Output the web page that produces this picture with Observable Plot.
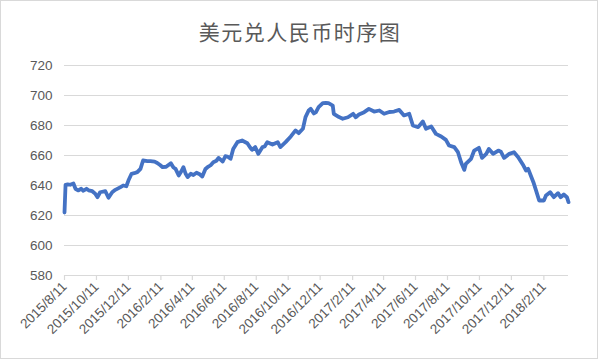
<!DOCTYPE html>
<html>
<head>
<meta charset="utf-8">
<script src="https://cdn.jsdelivr.net/npm/d3@7"></script>
<script src="https://cdn.jsdelivr.net/npm/@observablehq/plot@0.6"></script>
<style>
  html, body { margin: 0; padding: 0; background: #fff; }
  #wrap { position: relative; width: 600px; height: 360px; overflow: hidden; }
  #frame { position: absolute; left: 0; top: 0; width: 598px; height: 359px; box-sizing: border-box; border: 1px solid #d9d9d9; pointer-events: none; }
  #title { position: absolute; left: 0; top: 16px; width: 600px; text-align: center; font-family: "Noto Sans CJK SC", sans-serif; font-size: 21px; letter-spacing: 1.5px; color: #595959; }
  #chart { position: absolute; left: 0; top: 0; }
</style>
</head>
<body>
<div id="wrap">
  <div id="chart"></div>
  <div id="title">美元兑人民币时序图</div>
  <div id="frame"></div>
</div>
<script>
const chartTitle = "美元兑人民币时序图";

const dates = [
  "2015-08-11","2015-08-13","2015-08-17","2015-08-22","2015-08-28","2015-09-01","2015-09-06","2015-09-12",
  "2015-09-16","2015-09-22","2015-09-26","2015-10-03","2015-10-09","2015-10-13","2015-10-18","2015-10-28",
  "2015-11-03","2015-11-10","2015-11-16","2015-11-26","2015-12-01","2015-12-07","2015-12-11","2015-12-17",
  "2015-12-22","2015-12-28","2016-01-03","2016-01-08","2016-01-16","2016-01-22","2016-01-30","2016-02-04",
  "2016-02-10","2016-02-14","2016-02-21","2016-03-01","2016-03-06","2016-03-10","2016-03-16","2016-03-21",
  "2016-03-25","2016-03-29","2016-04-02","2016-04-08","2016-04-13","2016-04-19","2016-04-25","2016-04-30",
  "2016-05-06","2016-05-10","2016-05-16","2016-05-21","2016-05-27","2016-05-31","2016-06-08","2016-06-13",
  "2016-06-17","2016-06-23","2016-06-28","2016-07-06","2016-07-15","2016-07-25","2016-07-31","2016-08-03",
  "2016-08-09","2016-08-15","2016-08-23","2016-08-27","2016-09-01","2016-09-11","2016-09-21","2016-09-26",
  "2016-10-06","2016-10-16","2016-10-25","2016-10-31","2016-11-08","2016-11-13","2016-11-19","2016-11-23",
  "2016-11-29","2016-12-03","2016-12-08","2016-12-16","2016-12-22","2016-12-27","2017-01-04","2017-01-06",
  "2017-01-16","2017-01-23","2017-02-02","2017-02-12","2017-02-17","2017-02-23","2017-03-05","2017-03-14",
  "2017-03-24","2017-04-03","2017-04-12","2017-04-22","2017-05-01","2017-05-11","2017-05-20","2017-05-30",
  "2017-06-06","2017-06-16","2017-06-25","2017-07-01","2017-07-11","2017-07-20","2017-07-30","2017-08-08",
  "2017-08-14","2017-08-24","2017-08-31","2017-09-06","2017-09-12","2017-09-15","2017-09-25","2017-10-01",
  "2017-10-10","2017-10-16","2017-10-24","2017-10-29","2017-11-06","2017-11-16","2017-11-21","2017-11-27",
  "2017-12-07","2017-12-16","2017-12-24","2018-01-03","2018-01-08","2018-01-12","2018-01-22","2018-01-27",
  "2018-02-02","2018-02-11","2018-02-15","2018-02-23","2018-03-02","2018-03-10","2018-03-15","2018-03-21",
  "2018-03-27","2018-03-30"
];

const rates = [
  622.0,640.5,640.8,640.5,641.3,637.8,636.7,637.8,
  636.5,637.8,636.8,636.2,634.4,632.2,635.5,636.2,
  631.8,635.5,637.1,638.9,640.0,639.5,643.3,647.8,
  648.2,648.9,651.1,656.7,656.3,656.2,655.9,655.0,
  653.5,652.2,652.5,654.9,652.0,651.1,646.7,649.5,
  652.2,648.0,645.6,647.8,647.0,648.5,647.5,646.0,
  651.0,652.2,653.5,655.5,656.5,658.4,656.0,659.5,
  659.3,657.8,664.4,668.9,670.0,668.2,665.0,663.8,
  665.6,661.1,665.6,666.0,668.9,667.3,668.9,665.6,
  668.9,672.7,676.7,674.9,677.8,685.6,690.0,691.1,
  688.0,688.9,692.2,694.9,695.0,694.9,693.3,687.8,
  685.6,684.5,685.5,687.8,685.5,687.3,688.9,691.1,
  689.3,690.0,687.8,689.0,689.3,690.4,686.7,687.8,
  680.0,678.9,682.7,677.8,679.3,674.4,672.7,670.4,
  666.7,665.6,662.2,655.5,650.4,654.4,657.8,663.3,
  665.1,658.4,661.1,664.4,661.1,663.3,662.5,658.4,
  661.1,662.2,658.9,653.3,650.0,651.1,642.2,636.7,
  630.0,630.0,633.3,635.5,632.2,634.9,632.2,634.0,
  632.2,628.9
];

const yTicks = [580, 600, 620, 640, 660, 680, 700, 720];
const xTickLabels = [
  "2015/8/11","2015/10/11","2015/12/11","2016/2/11","2016/4/11","2016/6/11","2016/8/11","2016/10/11",
  "2016/12/11","2017/2/11","2017/4/11","2017/6/11","2017/8/11","2017/10/11","2017/12/11","2018/2/11"
];

const parseIso = s => { const [y, m, d] = s.split("-").map(Number); return new Date(Date.UTC(y, m - 1, d)); };
const parseSlash = s => { const [y, m, d] = s.split("/").map(Number); return new Date(Date.UTC(y, m - 1, d)); };

const data = dates.map((d, i) => ({date: parseIso(d), value: rates[i]}));
const xTicks = xTickLabels.map(parseSlash);
const labelOf = new Map(xTicks.map((d, i) => [+d, xTickLabels[i]]));

const font = "'Liberation Sans', Arial, sans-serif";

const chart = Plot.plot({
  width: 600,
  height: 360,
  marginTop: 65,
  marginBottom: 85,
  marginLeft: 64,
  marginRight: 32,
  style: {fontFamily: font, fontSize: "13.5px", color: "#595959", background: "transparent"},
  x: {type: "utc", domain: [data[0].date, data[data.length - 1].date]},
  y: {domain: [580, 720]},
  marks: [
    Plot.gridY(yTicks, {stroke: "#d9d9d9", strokeOpacity: 1, strokeWidth: 1.2}),
    Plot.axisY(yTicks, {tickSize: 0, tickPadding: 12, fill: "#595959", fontSize: 13.5, tickFormat: d => String(d), label: null}),
    Plot.axisX(xTicks, {
      tickSize: 5, stroke: "#d9d9d9", strokeWidth: 1.2, tickPadding: 4,
      tickRotate: -45, fill: "#595959", fontSize: 13.5,
      tickFormat: d => labelOf.get(+d), label: null
    }),
    Plot.ruleY([580], {stroke: "#d9d9d9", strokeWidth: 1.2}),
    Plot.line(data, {x: "date", y: "value", stroke: "#4472C4", strokeWidth: 3.8, strokeLinejoin: "round", strokeLinecap: "round"})
  ]
});
document.getElementById("chart").appendChild(chart);
</script>
</body>
</html>
